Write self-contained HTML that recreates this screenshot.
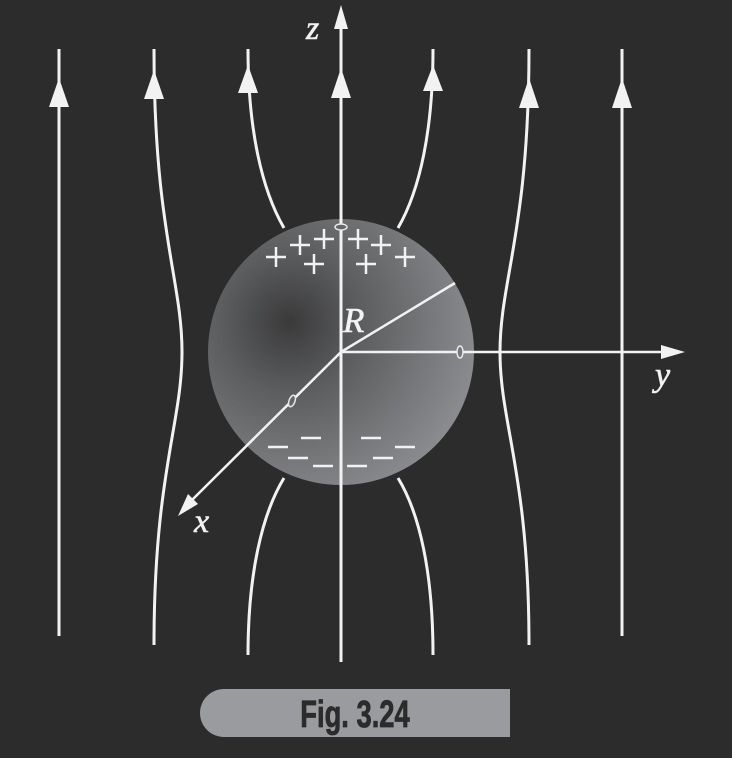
<!DOCTYPE html>
<html><head><meta charset="utf-8">
<style>
html,body{margin:0;padding:0;background:#2c2c2c;}
svg{display:block;}
</style></head>
<body>
<svg width="732" height="758" viewBox="0 0 732 758">
<defs>
<radialGradient id="sg" cx="290" cy="322" r="200" gradientUnits="userSpaceOnUse">
<stop offset="0" stop-color="#3a3a3b"/>
<stop offset="0.35" stop-color="#5c5d5f"/>
<stop offset="1" stop-color="#8e8f92"/>
</radialGradient>
</defs>
<rect width="732" height="758" fill="#2c2c2c"/>
<circle cx="341" cy="352" r="133" fill="url(#sg)"/>
<g fill="none" stroke="#f2f2f2" stroke-width="3">
<path d="M59 49 V636"/>
<path d="M154 49 C154 230 182 280 182 352 C182 424 154 474 154 645"/>
<path d="M248 49 C248 130 262 190 284 228"/>
<path d="M248 655 C248 574 262 514 284 478"/>
<path d="M433 49 C433 130 420 190 398 228"/>
<path d="M433 655 C433 574 420 514 398 478"/>
<path d="M529 49 C529 230 500 280 500 352 C500 424 529 474 529 645"/>
<path d="M622 49 V636"/>
<path d="M341 20 V662"/>
</g>
<g fill="#f2f2f2">
<polygon points="59,78 49,107 69,107"/>
<polygon points="154,70 144,99 164,99"/>
<polygon points="248,65 238,93 258,93"/>
<polygon points="341,68 331,98 351,98"/>
<polygon points="433,65 423,91 443,91"/>
<polygon points="529,78 519,108 539,108"/>
<polygon points="622,78 612,108 632,108"/>
<polygon points="341,5 334,29 348,29"/>
<polygon points="685,352 661,345 661,359"/>
<polygon points="178,516 188,494 198,504"/>
</g>
<g stroke="#f2f2f2" stroke-width="2.5" fill="none">
<line x1="341" y1="352" x2="665" y2="352"/>
<line x1="341" y1="352" x2="190" y2="502"/>
<line x1="341" y1="352" x2="455" y2="283"/>
</g>
<g fill="none" stroke="#e8e8e8" stroke-width="1.5">
<ellipse cx="341" cy="227" rx="6" ry="3" fill="#666"/>
<ellipse cx="460" cy="352" rx="3" ry="6" fill="#777"/>
<ellipse cx="292" cy="401" rx="3" ry="6" fill="#666" transform="rotate(20 292 401)"/>
</g>
<g stroke="#f2f2f2" stroke-width="2.5">
<path d="M266 257h20M276 247v20"/><path d="M290 245h20M300 235v20"/><path d="M314 239h20M324 229v20"/>
<path d="M304 264h20M314 254v20"/><path d="M348 239h20M358 229v20"/><path d="M371 245h20M381 235v20"/>
<path d="M356 264h20M366 254v20"/><path d="M395 257h20M405 247v20"/>
</g>
<g stroke="#f2f2f2" stroke-width="2.5">
<path d="M268 447h20"/><path d="M301 438h20"/><path d="M288 458h20"/><path d="M313 466h20"/>
<path d="M347 466h20"/><path d="M361 438h20"/><path d="M373 458h20"/><path d="M395 447h20"/>
</g>
<g font-family="Liberation Serif, serif" font-style="italic" fill="#f2f2f2" stroke="#f2f2f2" stroke-width="0.6">
<text x="306" y="39" font-size="34">z</text>
<text x="655" y="386" font-size="34">y</text>
<text x="194" y="532" font-size="34">x</text>
<text x="343" y="332" font-size="35">R</text>
</g>
<path d="M224 689 H510 V737 H224 A24 24 0 0 1 224 689 Z" fill="#9a9b9e"/>
<text x="355" y="727" text-anchor="middle" font-family="Liberation Sans Narrow, Liberation Sans, sans-serif" font-weight="bold" font-size="38" fill="#2b2b2b" stroke="#2b2b2b" stroke-width="0.8" transform="translate(355 0) scale(0.72 1) translate(-355 0)">Fig. 3.24</text>
</svg>
</body></html>
